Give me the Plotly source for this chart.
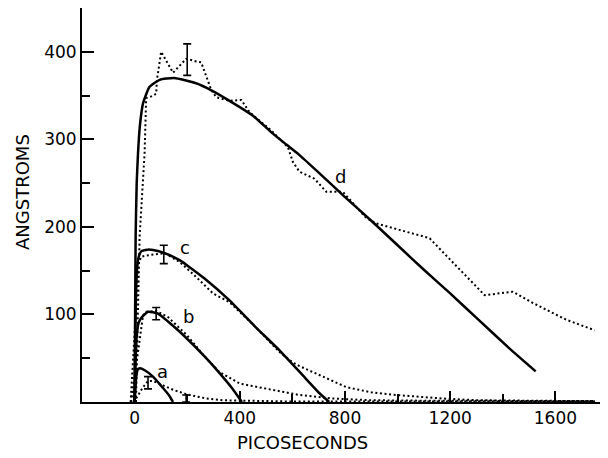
import plotly.graph_objects as go

# ---- data (picoseconds, angstroms) ----
a_fit_x = [0, 3, 6, 12, 20, 40, 70, 108, 130, 146]
a_fit_y = [0, 15, 28, 37, 38.5, 36, 29, 16, 8, 0]
a_obs_x = [-5, 10, 30, 51, 70, 95, 114, 146, 196, 272, 335, 450, 600, 800, 1000, 1200, 1400, 1600, 1750]
a_obs_y = [0, 6, 16, 24, 24, 21, 18, 14, 9, 4, 2, 1, 0.5, 0.5, 0.5, 0.5, 0.5, 0.5, 0.5]

b_fit_x = [0, 3, 8, 15, 25, 51, 89, 127, 178, 266, 323, 370, 408]
b_fit_y = [0, 40, 75, 90, 96, 103, 101, 92, 78.5, 52, 33, 16, 0]
b_obs_x = [-13, 10, 32, 44, 82, 127, 165, 200, 266, 323, 400, 526, 627, 750, 900, 1100, 1300, 1500, 1750]
b_obs_y = [0, 50, 99, 103, 104, 97, 86, 76, 52, 34, 21, 14, 8, 4, 2, 1.5, 1.5, 1, 1]

c_fit_x = [0, 2, 5, 10, 15, 25, 50, 70, 114, 171, 200, 266, 361, 462, 551, 650, 703, 740]
c_fit_y = [0, 60, 120, 155, 165, 172, 174, 173.5, 170, 162, 156, 141, 116, 85, 59, 27, 10, 0]
c_obs_x = [-15, 0, 15, 25, 60, 114, 171, 230, 298, 361, 462, 551, 602, 627, 703, 805, 900, 995, 1171, 1300, 1500, 1750]
c_obs_y = [0, 80, 158, 166, 168, 170, 160, 144, 124, 114, 85, 57, 45, 41, 31, 17, 11, 8, 4, 2, 1.5, 1]

d_fit_x = [0, 2, 4, 8, 13, 20, 32, 57, 95, 150, 234, 292, 361, 450, 520, 577, 627, 700, 800, 900,
           1000, 1100, 1200, 1300, 1426, 1525]
d_fit_y = [0, 100, 190, 250, 284, 315, 341, 360, 368, 370, 364, 356, 344, 327, 308, 294, 282, 262, 234, 207,
           179, 151, 124, 96, 61, 35]
d_obs_x = [5, 19, 38, 44, 63, 82, 85, 101, 146, 196, 234, 253, 292, 311, 361, 406, 437, 520, 583, 602,
           627, 684, 729, 792, 881, 919, 1122, 1147, 1331, 1438, 1515, 1641, 1749]
d_obs_y = [0, 189, 284, 347, 349, 352, 368, 400, 376, 392, 389, 388, 356, 348, 344, 345, 331, 310, 291, 274,
           263, 255, 240, 240, 210, 204, 187, 179, 122, 126, 113, 94, 82]

err_x = [200, 111, 82, 51, 196]
err_y = [391, 168.5, 101, 22, 4]
err_size = [18, 10.5, 7, 7, 4]

curve_labels = ["a", "b", "c", "d"]
label_x = [106, 205, 190, 783]
label_y = [35, 98, 177, 257]

x_ticks = [0, 400, 800, 1200, 1600]
x_minor = [200, 600, 1000, 1400]
y_ticks = [100, 200, 300, 400]
y_minor = [50, 150, 250, 350]

FONT = "DejaVu Sans"

fig = go.Figure()

for ox, oy in [(a_obs_x, a_obs_y), (b_obs_x, b_obs_y), (c_obs_x, c_obs_y), (d_obs_x, d_obs_y)]:
    fig.add_trace(go.Scatter(x=ox, y=oy, mode="lines",
                             line=dict(color="black", width=2, dash="2px,2.6px"),
                             hoverinfo="skip"))

for fx, fy in [(a_fit_x, a_fit_y), (b_fit_x, b_fit_y), (c_fit_x, c_fit_y), (d_fit_x, d_fit_y)]:
    fig.add_trace(go.Scatter(x=fx, y=fy, mode="lines",
                             line=dict(color="black", width=2.5, shape="spline", smoothing=0.5),
                             hoverinfo="skip"))

fig.add_trace(go.Scatter(x=err_x, y=err_y, mode="markers",
                         marker=dict(size=1, color="black"),
                         error_y=dict(type="data", array=err_size, visible=True,
                                      color="black", thickness=1.6, width=4),
                         hoverinfo="skip"))

for t, lx, ly in zip(curve_labels, label_x, label_y):
    fig.add_annotation(x=lx, y=ly, text=t, showarrow=False,
                       font=dict(family=FONT, size=18, color="black"))

fig.add_annotation(x=640, xref="x", y=-0.104, yref="paper", text="PICOSECONDS",
                   showarrow=False, yanchor="middle",
                   font=dict(family=FONT, size=18, color="black"))
fig.add_annotation(x=-0.112, xref="paper", y=240, yref="y", text="ANGSTROMS",
                   showarrow=False, textangle=-90, xanchor="center",
                   font=dict(family=FONT, size=18, color="black"))

# page body has an 8px margin, so the figure is drawn 8px in from the top-left
fig.update_layout(
    width=600, height=450,
    margin=dict(l=74, r=0, t=0, b=56),
    paper_bgcolor="white", plot_bgcolor="white",
    showlegend=False, hovermode=False,
    font=dict(family=FONT, size=17, color="black"),
)
fig.update_xaxes(range=[-200, 1800], showgrid=False, zeroline=False,
                 showline=True, linecolor="black", linewidth=2,
                 tickmode="array", tickvals=x_ticks, ticktext=[str(v) for v in x_ticks],
                 ticks="inside", ticklen=11, tickwidth=1.5, tickcolor="black",
                 minor=dict(tickmode="array", tickvals=x_minor, ticks="inside",
                            ticklen=8, tickwidth=1.5, tickcolor="black"),
                 tickfont=dict(family=FONT, size=17, color="black"))
fig.update_yaxes(range=[0, 450], showgrid=False, zeroline=False,
                 showline=True, linecolor="black", linewidth=2,
                 tickmode="array", tickvals=y_ticks, ticktext=[str(v) for v in y_ticks],
                 ticks="inside", ticklen=12, tickwidth=1.5, tickcolor="black",
                 minor=dict(tickmode="array", tickvals=y_minor, ticks="inside",
                            ticklen=8, tickwidth=1.5, tickcolor="black"),
                 tickfont=dict(family=FONT, size=17, color="black"))

fig.write_html("out.html")
